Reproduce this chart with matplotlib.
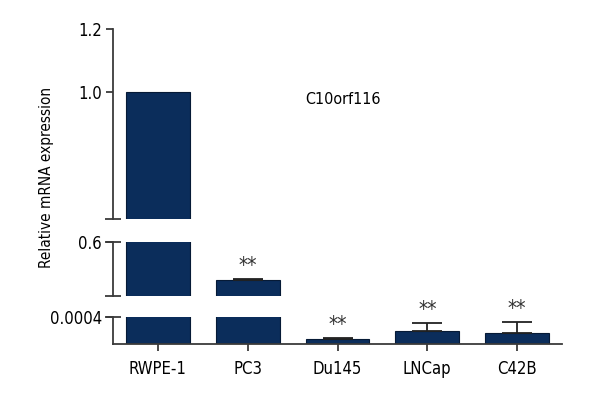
import matplotlib
matplotlib.use("Agg")
import matplotlib.pyplot as plt
import numpy as np

plt.rcParams['font.family'] = ['Liberation Sans Narrow', 'DejaVu Sans']
plt.rcParams['font.stretch'] = 'condensed'

# data
cells = ['RWPE-1', 'PC3', 'Du145', 'LNCap', 'C42B']
expr = [1.0, 0.457, 0.000063, 0.000187, 0.000157]
err = [0.0, 0.004, 0.000015, 0.00012, 0.00016]
stars = ['', '**', '**', '**', '**']

# broken axis segments (low, high) and their tick values
seg_lims = [(0.0, 0.0004), (0.4, 0.6), (0.597, 1.2)]
seg_ticks = [[0.0004], [0.6], [1.0, 1.2]]
seg_ticklabels = [['0.0004'], ['0.6'], ['1.0', '1.2']]

bar_col = '#0b2d5b'
spine_col = '#3a3a3a'

fig = plt.figure(figsize=(6, 4), dpi=100)
left, width = 113 / 600, 449 / 600
boxes = [(316.7, 343.5), (241.7, 295.7), (29, 219)]  # pixel top/bottom

x = np.arange(len(cells))
has_err = [e > 0 for e in err]
xe = x[has_err]
ye = np.array(expr)[has_err]
ee = np.array(err)[has_err]

axes = []
for i, (top, bot) in enumerate(boxes):
    ax = fig.add_axes([left, 1 - bot / 400, width, (bot - top) / 400])
    axes.append(ax)
    lo, hi = seg_lims[i]
    ax.bar(x, expr, width=0.71, color=bar_col, edgecolor='#061a36', linewidth=0.8, zorder=2)
    ax.errorbar(xe, ye, yerr=[np.zeros(len(ee)), ee], fmt='none', ecolor='#222222',
                elinewidth=1.3, capsize=10.8, capthick=1.3, zorder=3)
    ax.set_xlim(-0.5, 4.5)
    ax.set_ylim(lo, hi)
    ax.set_yticks(seg_ticks[i])
    ax.set_yticklabels(seg_ticklabels[i], fontsize=12)
    for s in ['top', 'right']:
        ax.spines[s].set_visible(False)
    ax.spines['left'].set_color(spine_col)
    ax.spines['left'].set_linewidth(1.3)
    ax.tick_params(axis='y', length=5, width=1.3, color=spine_col, pad=3)
    if i == 0:
        ax.spines['bottom'].set_color(spine_col)
        ax.spines['bottom'].set_linewidth(1.3)
        ax.set_xticks(x)
        ax.set_xticklabels(cells, fontsize=12)
        ax.tick_params(axis='x', length=5, width=1.3, color=spine_col, pad=7)
    else:
        ax.spines['bottom'].set_visible(False)
        ax.set_xticks([])
    # break marks at segment ends
    ends = [1] if i == 0 else ([0, 1] if i == 1 else [0])
    for e in ends:
        ax.plot([0], [e], transform=ax.transAxes, marker='_', markersize=11,
                markeredgewidth=1.3, color=spine_col, clip_on=False, zorder=5)

# significance stars above the error bars
for xi, yi, ei, s in zip(x, expr, err, stars):
    if not s:
        continue
    top = yi + ei
    for ax, (lo, hi) in zip(axes, seg_lims):
        if lo <= top <= hi:
            ax.annotate(s, (xi, top), xytext=(0, 2), textcoords='offset points',
                        ha='center', va='bottom', fontsize=15, color='#333333')
            break

fig.text(343 / 600, 1 - 100 / 400, 'C10orf116', ha='center', va='center', fontsize=11.5)
fig.text(47 / 600, 1 - 177 / 400, 'Relative mRNA expression', rotation=90,
         ha='center', va='center', fontsize=11)

fig.savefig('out.png', dpi=100)
